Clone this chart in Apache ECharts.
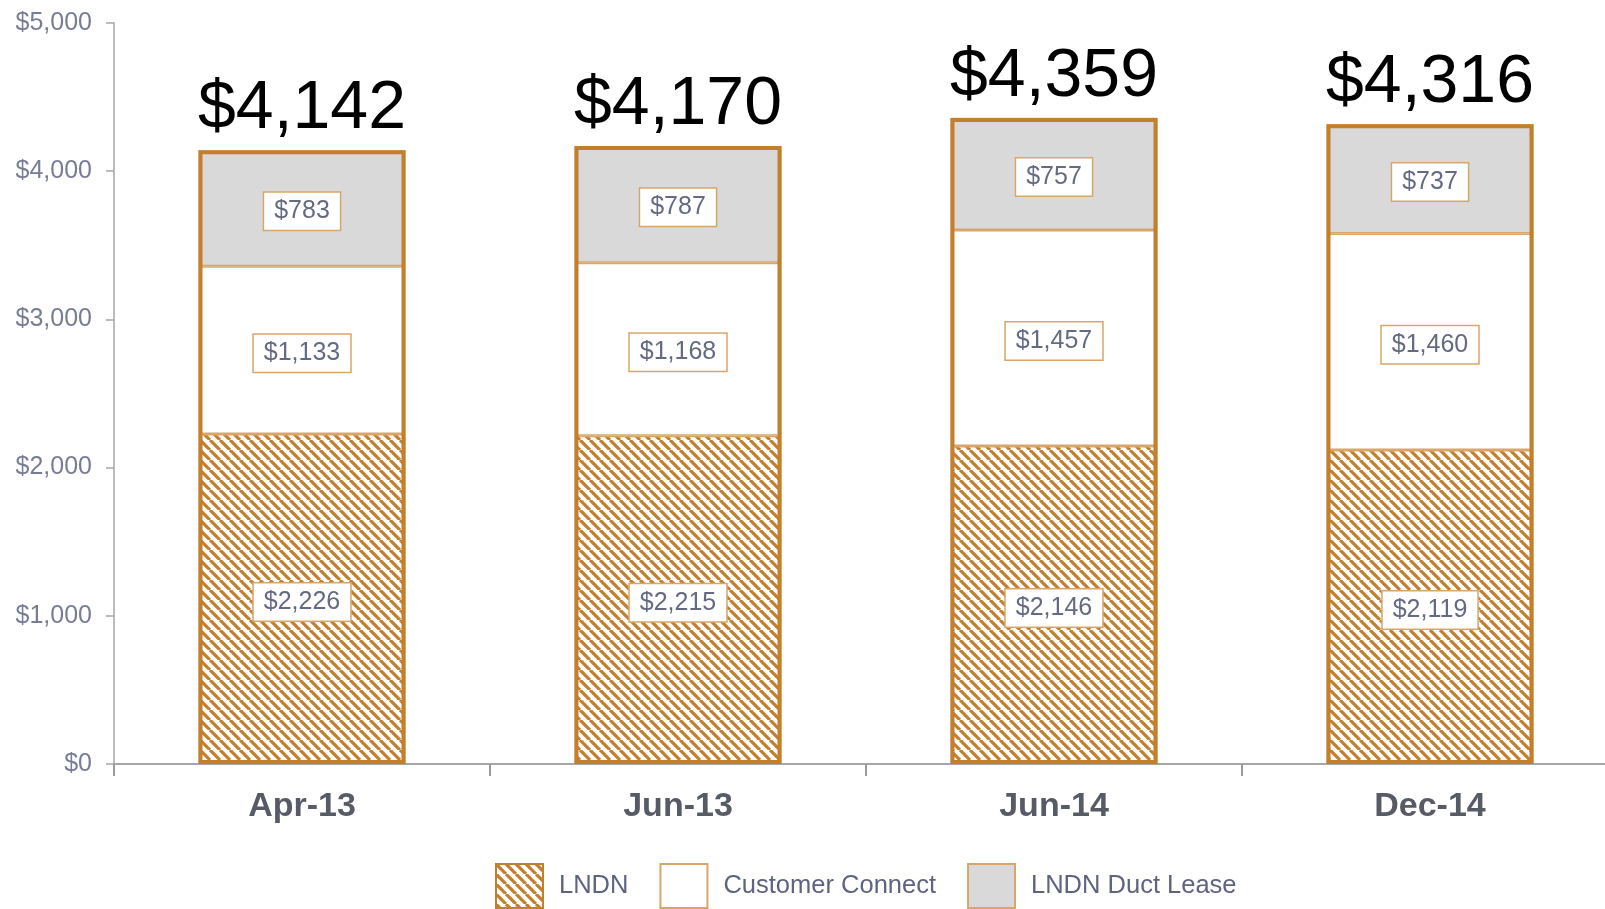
<!DOCTYPE html>
<html>
<head>
<meta charset="utf-8">
<script src="https://cdn.jsdelivr.net/npm/echarts@6/dist/echarts.min.js"></script>
<style>
  html, body { margin: 0; padding: 0; background: #fff; overflow: hidden; }
  /* plot runs past the right edge in the original, so the div is a bit wider than the window */
  #chart { width: 1618px; height: 909px; }
</style>
</head>
<body>
<div id="chart"></div>
<script>
const categories = ['Apr-13', 'Jun-13', 'Jun-14', 'Dec-14'];
const lndn = [2226, 2215, 2146, 2119];
const customerConnect = [1133, 1168, 1457, 1460];
const ductLease = [783, 787, 757, 737];
const totals = [4142, 4170, 4359, 4316];
const yTicks = [0, 1000, 2000, 3000, 4000, 5000];

const ORANGE = '#C47F2C';
const LIGHT_ORANGE = '#D8A66A';
const FONT = "'Liberation Sans', Arial, sans-serif";
const BAR_W = 207;

// diagonal hatch like the excel pattern fill
function hatch() {
  const p = 10;
  const c = document.createElement('canvas');
  c.width = p; c.height = p;
  const ctx = c.getContext('2d');
  ctx.fillStyle = '#fff';
  ctx.fillRect(0, 0, p, p);
  ctx.strokeStyle = ORANGE;
  ctx.lineWidth = 3.2;
  ctx.beginPath();
  for (let k = -1; k <= 1; k++) {
    ctx.moveTo(k * p, 0);
    ctx.lineTo(k * p + p, p);
  }
  ctx.stroke();
  return c;
}

const money = v => '$' + Number(v).toLocaleString('en-US');

const boxLabel = {
  show: true,
  position: 'inside',
  offset: [0, 3],
  formatter: p => money(p.value),
  fontFamily: FONT,
  fontSize: 25,
  color: '#646A82',
  backgroundColor: '#fff',
  borderColor: LIGHT_ORANGE,
  borderWidth: 1.5,
  padding: [6, 10]
};

function stackSeries(name, data, color) {
  return {
    name: name,
    type: 'bar',
    stack: 'total',
    barWidth: BAR_W,
    data: data,
    itemStyle: { color: color, borderColor: LIGHT_ORANGE, borderWidth: 1.5 },
    label: boxLabel
  };
}

const chart = echarts.init(document.getElementById('chart'));
chart.setOption({
  animation: false,
  grid: { left: 114, top: 23, right: 0, bottom: 145, containLabel: false },
  legend: {
    left: 490,
    top: 858,
    itemWidth: 47,
    itemHeight: 44,
    itemGap: 31,
    icon: 'rect',
    textStyle: { fontFamily: FONT, fontSize: 25.5, color: '#5E6480', padding: [0, 0, 0, 11] },
    itemStyle: { borderColor: LIGHT_ORANGE, borderWidth: 2 },
    data: [
      { name: 'LNDN', itemStyle: { borderColor: ORANGE, borderWidth: 2 } },
      'Customer Connect',
      'LNDN Duct Lease'
    ]
  },
  xAxis: {
    type: 'category',
    data: categories,
    axisLine: { lineStyle: { color: '#A6A6A6', width: 2 } },
    axisTick: { show: true, length: 12, lineStyle: { color: '#9A9A9A', width: 2 } },
    axisLabel: { fontFamily: FONT, fontSize: 34, fontWeight: 'bold', color: '#575B66', margin: 26 }
  },
  yAxis: {
    type: 'value',
    min: 0,
    max: 5000,
    interval: 1000,
    splitLine: { show: false },
    axisLine: { show: true, lineStyle: { color: '#A6A6A6', width: 1.5 } },
    axisTick: { show: true, length: 8, lineStyle: { color: '#A6A6A6', width: 1.5 } },
    axisLabel: {
      fontFamily: FONT, fontSize: 25, color: '#777D95', margin: 22,
      formatter: v => yTicks.includes(v) ? money(v) : ''
    }
  },
  series: [
    stackSeries('LNDN', lndn, { image: hatch(), repeat: 'repeat' }),
    stackSeries('Customer Connect', customerConnect, '#fff'),
    stackSeries('LNDN Duct Lease', ductLease, '#D9D9D9'),
    {
      name: 'Total',
      type: 'bar',
      barWidth: BAR_W,
      barGap: '-100%',
      data: totals,
      itemStyle: { color: 'rgba(0,0,0,0)', borderColor: ORANGE, borderWidth: 4 },
      label: {
        show: true,
        position: 'top',
        distance: 7,
        formatter: p => money(p.value),
        fontFamily: FONT,
        fontSize: 68,
        color: '#000'
      },
      z: 3
    }
  ]
});
</script>
</body>
</html>
